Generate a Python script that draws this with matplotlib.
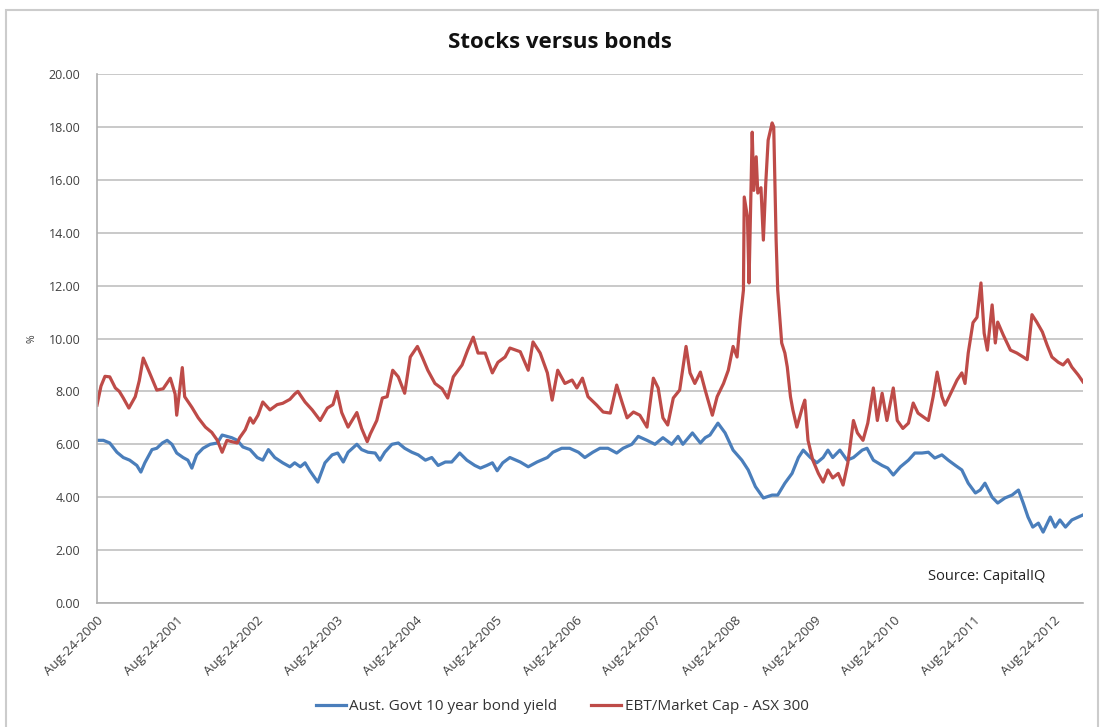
import matplotlib.pyplot as plt
from matplotlib.patches import Rectangle

# years elapsed since Aug-24-2000, value in %
ebt_t = [0.00, 0.05, 0.10, 0.16, 0.23, 0.28, 0.33, 0.40, 0.48, 0.53, 0.58, 0.66, 0.75, 0.83, 0.92, 0.98,
         1.00, 1.07, 1.10, 1.19, 1.27, 1.36, 1.44, 1.51, 1.57, 1.63, 1.69, 1.76, 1.79, 1.86, 1.92, 1.96,
         2.02, 2.08, 2.17, 2.26, 2.33, 2.42, 2.48, 2.52, 2.61, 2.70, 2.80, 2.89, 2.96, 3.01, 3.07, 3.15,
         3.26, 3.32, 3.39, 3.43, 3.51, 3.58, 3.64, 3.71, 3.78, 3.86, 3.93, 4.02, 4.08, 4.15, 4.24, 4.33,
         4.40, 4.47, 4.58, 4.65, 4.72, 4.78, 4.87, 4.96, 5.03, 5.12, 5.18, 5.31, 5.41, 5.47, 5.56, 5.65,
         5.71, 5.78, 5.87, 5.96, 6.02, 6.09, 6.16, 6.27, 6.35, 6.44, 6.52, 6.59, 6.65, 6.73, 6.81, 6.90,
         6.98, 7.04, 7.10, 7.16, 7.23, 7.31, 7.39, 7.44, 7.50, 7.57, 7.63, 7.72, 7.78, 7.86, 7.92, 7.98,
         8.03, 8.07, 8.11, 8.12, 8.16, 8.18, 8.22, 8.24, 8.27, 8.29, 8.33, 8.36, 8.39, 8.42, 8.47, 8.49,
         8.52, 8.54, 8.59, 8.63, 8.66, 8.70, 8.73, 8.78, 8.85, 8.88, 8.92, 8.98, 9.05, 9.11, 9.17, 9.23,
         9.30, 9.36, 9.42, 9.49, 9.54, 9.61, 9.67, 9.74, 9.79, 9.85, 9.91, 9.99, 10.04, 10.11, 10.18, 10.24,
         10.30, 10.36, 10.43, 10.49, 10.54, 10.60, 10.64, 10.73, 10.79, 10.85, 10.89, 10.93, 10.99, 11.04,
         11.09, 11.13, 11.17, 11.23, 11.27, 11.30, 11.37, 11.46, 11.54, 11.62, 11.67, 11.73, 11.79, 11.86,
         11.92, 11.98, 12.06, 12.12, 12.18, 12.23, 12.31, 12.37]
ebt_v = [7.48, 8.2, 8.57, 8.55, 8.13, 8.0, 7.75, 7.37, 7.8, 8.4, 9.26, 8.7, 8.05, 8.1, 8.5, 7.9,
         7.1, 8.9, 7.8, 7.4, 7.0, 6.65, 6.45, 6.15, 5.7, 6.15, 6.1, 6.05, 6.25, 6.55, 7.0, 6.8,
         7.1, 7.6, 7.3, 7.5, 7.55, 7.7, 7.9, 8.0, 7.6, 7.3, 6.9, 7.37, 7.5, 8.0, 7.2, 6.65,
         7.2, 6.6, 6.1, 6.4, 6.9, 7.75, 7.8, 8.8, 8.55, 7.93, 9.3, 9.7, 9.3, 8.8, 8.3, 8.1,
         7.75, 8.55, 9.0, 9.56, 10.05, 9.45, 9.45, 8.7, 9.1, 9.3, 9.64, 9.5, 8.8, 9.87, 9.45, 8.7,
         7.67, 8.8, 8.3, 8.43, 8.13, 8.5, 7.8, 7.48, 7.22, 7.18, 8.24, 7.56, 7.0, 7.22, 7.1, 6.65,
         8.5, 8.13, 7.0, 6.73, 7.75, 8.05, 9.7, 8.7, 8.3, 8.73, 8.05, 7.1, 7.8, 8.3, 8.8, 9.7,
         9.3, 10.7, 11.83, 15.35, 14.6, 12.1, 17.8, 15.6, 16.87, 15.5, 15.7, 13.72, 15.87, 17.5, 18.15, 18.0,
         13.72, 11.83, 9.83, 9.45, 8.92, 7.8, 7.3, 6.65, 7.4, 7.67, 6.15, 5.4, 4.9, 4.57, 5.03, 4.73,
         4.9, 4.46, 5.3, 6.9, 6.43, 6.15, 6.8, 8.13, 6.9, 7.93, 6.9, 8.13, 6.9, 6.6, 6.8, 7.56,
         7.18, 7.05, 6.9, 7.8, 8.73, 7.8, 7.48, 8.05, 8.43, 8.7, 8.3, 9.45, 10.6, 10.8,
         12.1, 10.2, 9.56, 11.27, 9.83, 10.62, 10.13, 9.56, 9.45, 9.3, 9.2, 10.9, 10.62, 10.25,
         9.75, 9.3, 9.1, 9.0, 9.2, 8.92, 8.62, 8.36]

bond_t = [0.00, 0.08, 0.16, 0.25, 0.33, 0.41, 0.50, 0.55, 0.60, 0.69, 0.75, 0.82, 0.88, 0.94, 1.00, 1.08,
          1.14, 1.19, 1.25, 1.33, 1.42, 1.51, 1.57, 1.63, 1.69, 1.76, 1.83, 1.92, 2.01, 2.08, 2.15, 2.23,
          2.33, 2.42, 2.48, 2.55, 2.61, 2.67, 2.77, 2.86, 2.95, 3.02, 3.09, 3.15, 3.26, 3.32, 3.40, 3.49,
          3.55, 3.61, 3.70, 3.78, 3.86, 3.95, 4.03, 4.12, 4.20, 4.28, 4.37, 4.45, 4.55, 4.64, 4.74, 4.81,
          4.89, 4.96, 5.02, 5.09, 5.18, 5.31, 5.41, 5.52, 5.65, 5.72, 5.83, 5.93, 6.04, 6.12, 6.22, 6.31,
          6.41, 6.52, 6.60, 6.71, 6.79, 6.90, 7.00, 7.10, 7.21, 7.29, 7.35, 7.47, 7.57, 7.63, 7.69, 7.79,
          7.88, 7.98, 8.09, 8.17, 8.26, 8.36, 8.47, 8.54, 8.63, 8.72, 8.80, 8.86, 8.95, 9.03, 9.11, 9.17,
          9.23, 9.32, 9.41, 9.49, 9.60, 9.66, 9.74, 9.85, 9.92, 9.99, 10.08, 10.18, 10.26, 10.35, 10.43, 10.51,
          10.60, 10.68, 10.77, 10.85, 10.93, 11.02, 11.08, 11.14, 11.23, 11.30, 11.39, 11.48, 11.56, 11.62,
          11.68, 11.74, 11.81, 11.87, 11.96, 12.02, 12.08, 12.15, 12.23, 12.31, 12.37]
bond_v = [6.15, 6.15, 6.05, 5.7, 5.5, 5.4, 5.2, 4.95, 5.3, 5.8, 5.85, 6.05, 6.15, 6.0, 5.67, 5.5,
          5.4, 5.1, 5.6, 5.85, 6.0, 6.05, 6.35, 6.3, 6.25, 6.15, 5.9, 5.8, 5.5, 5.4, 5.8, 5.5,
          5.3, 5.15, 5.3, 5.15, 5.3, 5.0, 4.57, 5.3, 5.6, 5.67, 5.33, 5.7, 6.0, 5.8, 5.7, 5.67,
          5.4, 5.7, 6.0, 6.05, 5.85, 5.7, 5.6, 5.4, 5.5, 5.2, 5.33, 5.33, 5.67, 5.4, 5.2, 5.1,
          5.2, 5.3, 5.0, 5.3, 5.5, 5.33, 5.15, 5.33, 5.5, 5.7, 5.85, 5.85, 5.7, 5.5, 5.7, 5.85,
          5.85, 5.67, 5.85, 6.0, 6.3, 6.15, 6.0, 6.25, 6.0, 6.3, 6.0, 6.43, 6.05, 6.25, 6.35, 6.8,
          6.43, 5.78, 5.4, 5.03, 4.4, 3.97, 4.08, 4.08, 4.53, 4.9, 5.5, 5.78, 5.5, 5.3, 5.5, 5.78,
          5.5, 5.78, 5.4, 5.5, 5.78, 5.85, 5.4, 5.2, 5.1, 4.84, 5.15, 5.4, 5.67, 5.67, 5.7, 5.48,
          5.6, 5.4, 5.2, 5.03, 4.53, 4.16, 4.27, 4.53, 4.0, 3.78, 3.97, 4.08, 4.27, 3.78,
          3.25, 2.87, 3.02, 2.68, 3.25, 2.87, 3.14, 2.87, 3.14, 3.25, 3.33]

tick_labels = ["Aug-24-2000", "Aug-24-2001", "Aug-24-2002", "Aug-24-2003", "Aug-24-2004",
               "Aug-24-2005", "Aug-24-2006", "Aug-24-2007", "Aug-24-2008", "Aug-24-2009",
               "Aug-24-2010", "Aug-24-2011", "Aug-24-2012"]

plt.rcParams['font.family'] = ['Open Sans', 'DejaVu Sans']

fig = plt.figure(figsize=(11.04, 7.27), dpi=100)
fig.patches.append(Rectangle((6 / 1104, -0.05), 1092 / 1104, 1.05 - 10 / 727,
                             transform=fig.transFigure, fill=False,
                             edgecolor='#cccccc', linewidth=1.5))
ax = fig.add_axes([97 / 1104, 1 - 603 / 727, 986 / 1104, 529 / 727])

ax.plot(bond_t, bond_v, color='#4a7ebb', linewidth=2.3, label="Aust. Govt 10 year bond yield")
ax.plot(ebt_t, ebt_v, color='#be4b48', linewidth=2.3, label="EBT/Market Cap - ASX 300")

ax.set_xlim(0, 12.37)
ax.set_ylim(0, 20)
ax.set_yticks(range(0, 21, 2))
ax.set_yticklabels([f"{v:.2f}" for v in range(0, 21, 2)], fontsize=9, color='#404040')
ax.set_xticks(range(13))
ax.set_xticklabels(tick_labels, rotation=45, ha='right', rotation_mode='anchor',
                   fontsize=9.5, color='#404040')
ax.tick_params(axis='y', length=0, pad=12)
ax.tick_params(axis='x', length=0, pad=8)
ax.grid(axis='y', color='#c0c0c0', linewidth=1.2)
ax.set_axisbelow(True)
for s in ['top', 'right']:
    ax.spines[s].set_visible(False)
for s in ['left', 'bottom']:
    ax.spines[s].set_color('#b0b0b0')
    ax.spines[s].set_linewidth(1.2)

ax.set_ylabel("%", fontsize=7.5, color='#404040', labelpad=8)
ax.text(0.962, 0.035, "Source: CapitalIQ", transform=ax.transAxes, ha='right',
        va='bottom', fontsize=10.5, color='#222222')
fig.text(560 / 1104, 1 - 42 / 727, "Stocks versus bonds", ha='center', va='center',
         fontsize=16, fontweight='bold', color='#111111')
fig.legend(loc='center', bbox_to_anchor=(562 / 1104, 1 - 707 / 727), ncol=2, frameon=False,
           fontsize=11, handlelength=2.0, handletextpad=0.2, columnspacing=2.2,
           labelcolor='#333333')

fig.savefig("out.png", dpi=100)
